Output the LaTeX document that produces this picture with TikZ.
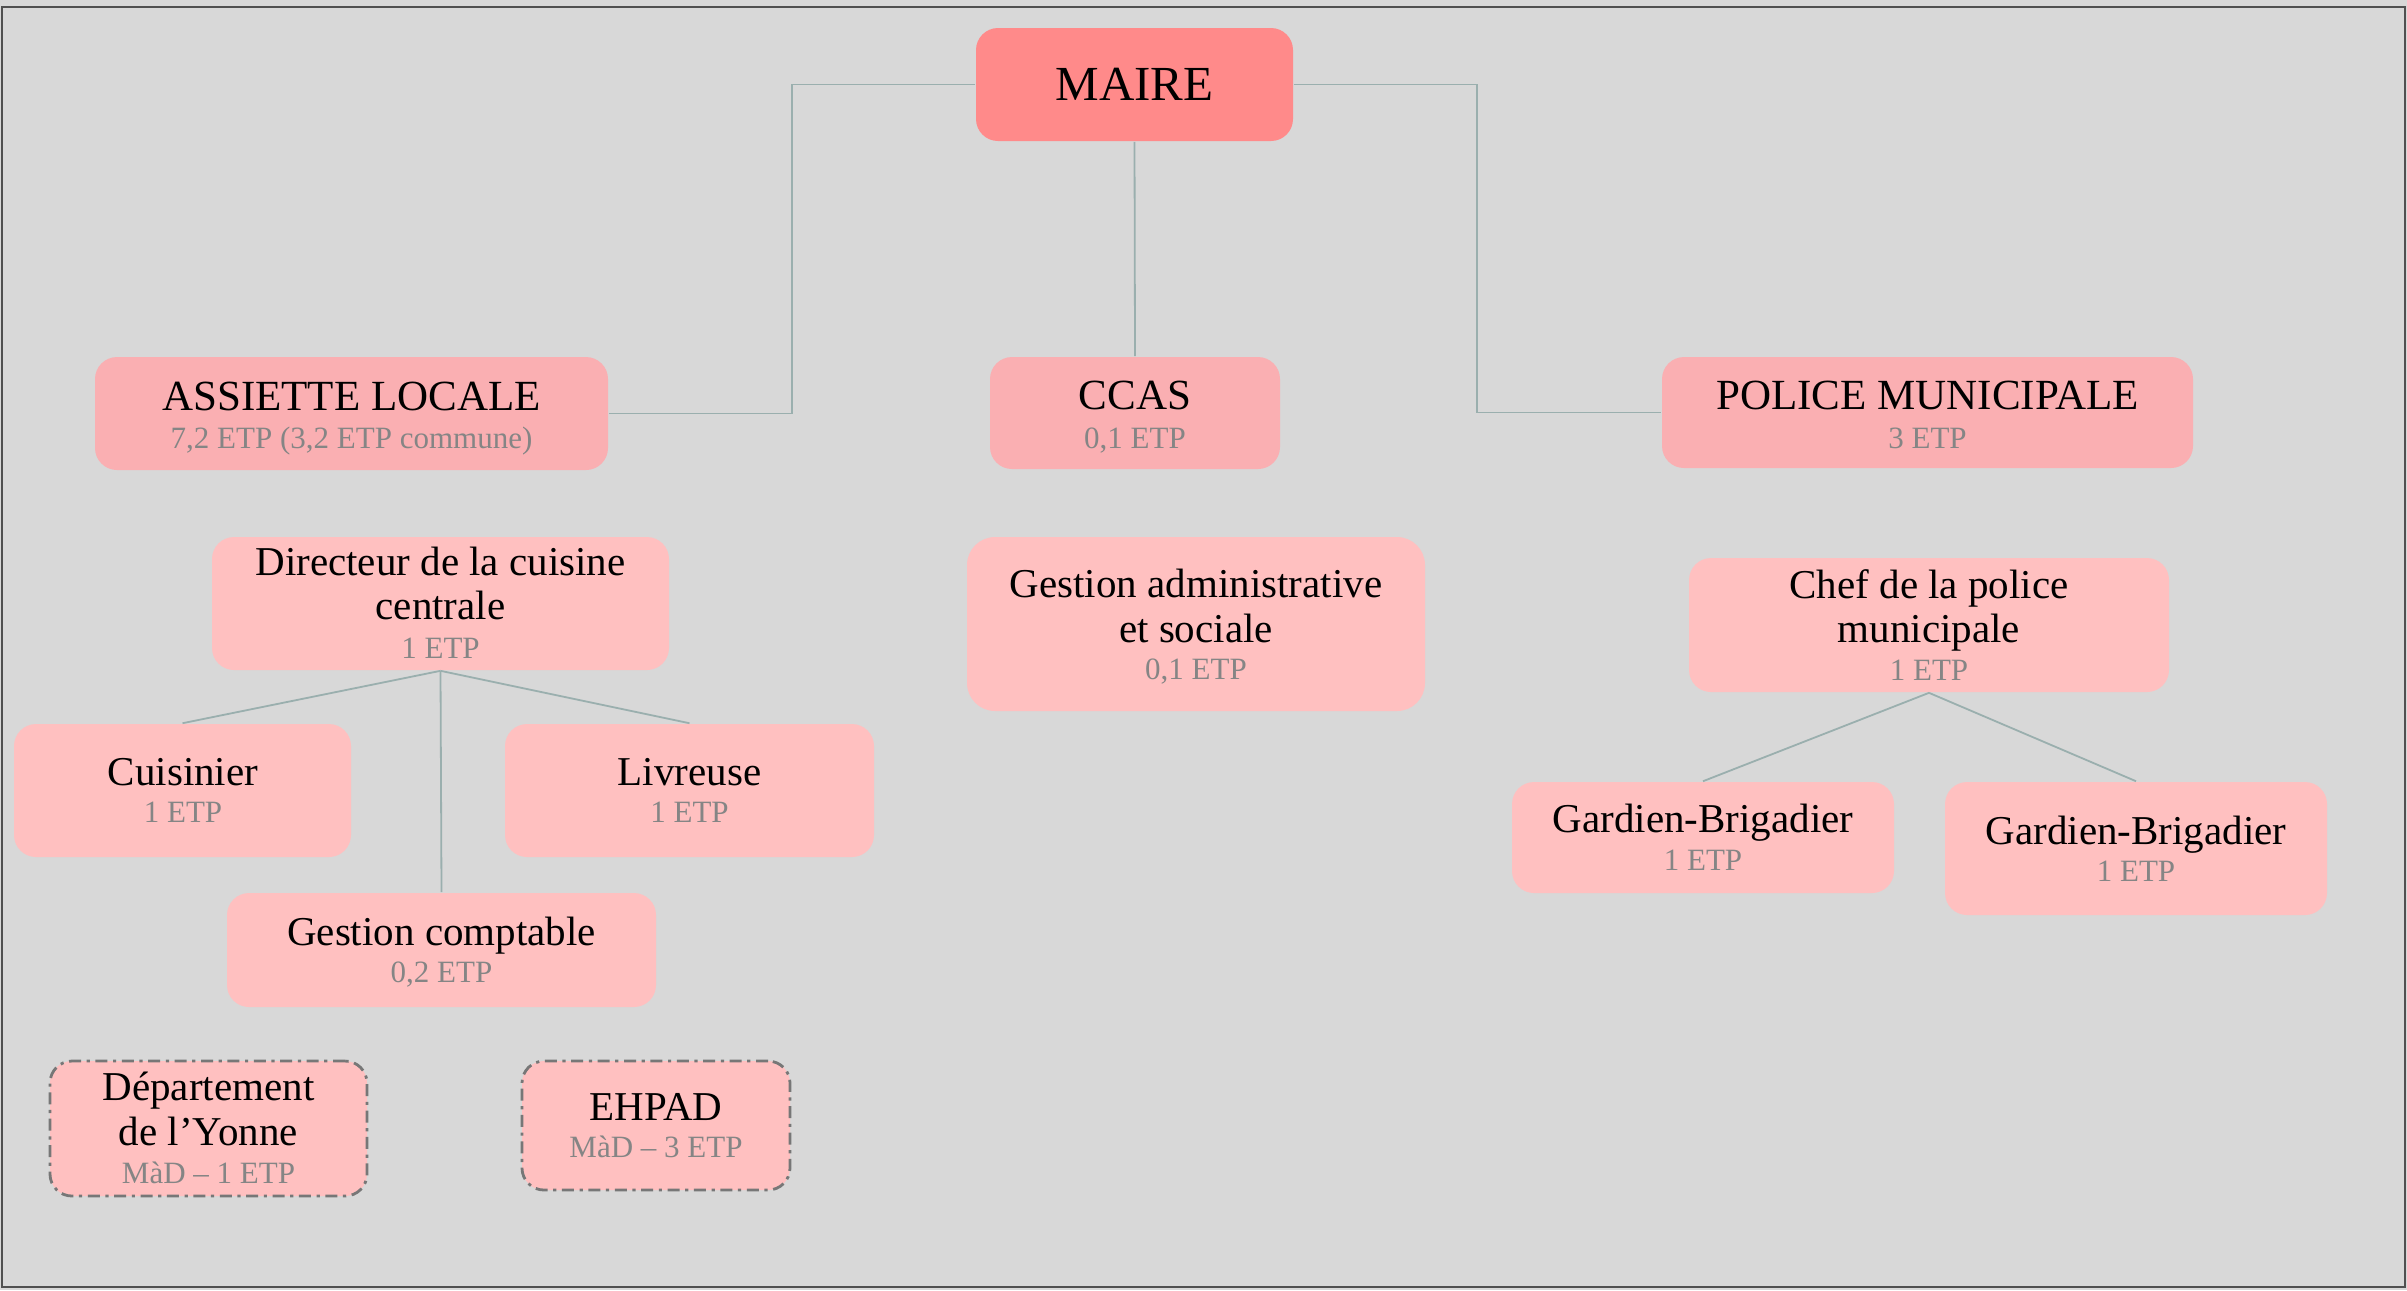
\documentclass[tikz,border=0pt]{standalone}
\usepackage{fontspec}
\setmainfont{Liberation Serif}
\definecolor{bgc}{HTML}{D8D8D8}
\definecolor{framec}{HTML}{505050}
\definecolor{mairec}{HTML}{FF8A8A}
\definecolor{lonec}{HTML}{FAAFB2}
\definecolor{ltwoc}{HTML}{FFC0C0}
\definecolor{linec}{HTML}{9AAFAE}
\definecolor{subc}{HTML}{858585}
\definecolor{dashc}{HTML}{777777}
\newcommand{\fmaire}{\fontsize{12.25}{14}\selectfont}
\newcommand{\fhead}{\fontsize{10.75}{12}\selectfont}
\newcommand{\fmain}{\fontsize{10.25}{11}\selectfont}
\newcommand{\fsub}{\fontsize{7.75}{9}\selectfont\color{subc}}
\tikzset{
  sz/.style 2 args={minimum width=#1*0.25pt, minimum height=#2*0.25pt},
  orgbox/.style={rectangle, rounded corners=5.5pt, inner sep=0pt, draw=none},
  mairebox/.style={orgbox, fill=mairec},
  lonebox/.style={orgbox, fill=lonec},
  ltwobox/.style={orgbox, fill=ltwoc},
  madbox/.style={orgbox, fill=ltwoc, draw=dashc, line width=0.7pt,
    dash pattern=on 3pt off 1.4pt on 0.8pt off 1.4pt},
  txt/.style={anchor=base, inner sep=0pt},
  conn/.style={draw=linec, line width=0.45pt},
}
\begin{document}
\begin{tikzpicture}[x=0.25pt,y=-0.25pt]
\useasboundingbox (0,0) rectangle (2407,1290);
\fill[bgc] (0,0) rectangle (2407,1290);
\draw[framec, line width=0.5pt] (2,7) rectangle (2405,1287);

% boxes
\node[mairebox, sz={317}{113}] (maire) at (1134.5,84.5) {};
\node[lonebox, sz={513}{113}] (assiette) at (351.5,413.5) {};
\node[lonebox, sz={290}{112}] (ccas) at (1135,413) {};
\node[lonebox, sz={531}{111}] (police) at (1927.5,412.5) {};
\node[ltwobox, sz={457}{133}] (dir) at (440.5,603.5) {};
\node[ltwobox, sz={337}{133}] (cuis) at (182.5,790.5) {};
\node[ltwobox, sz={369}{133}] (livr) at (689.5,790.5) {};
\node[ltwobox, sz={429}{114}] (gcomp) at (441.5,950) {};
\node[madbox, sz={317}{135}] (dept) at (208.5,1128.5) {};
\node[madbox, sz={268}{129}] (ehpad) at (656,1125.5) {};
\node[ltwobox, rounded corners=7pt, sz={458}{174}] (gas) at (1196,624) {};
\node[ltwobox, sz={480}{134}] (chef) at (1929,625) {};
\node[ltwobox, sz={382}{111}] (gbone) at (1703,837.5) {};
\node[ltwobox, sz={382}{133}] (gbtwo) at (2136,848.5) {};

% connectors
\coordinate (mleft) at (792,84.5);
\coordinate (mright) at (1477,84.5);
\draw[conn] (maire.west) -- (mleft) |- (assiette.east);
\draw[conn] (maire.east) -- (mright) |- (police.west);
\draw[conn] (maire.south) -- (ccas.north);
\draw[conn] (dir.south) -- (cuis.north);
\draw[conn] (dir.south) -- (livr.north);
\draw[conn] (dir.south) -- (gcomp.north);
\draw[conn] (chef.south) -- (gbone.north);
\draw[conn] (chef.south) -- (gbtwo.north);

% texts
\node[txt] (maire-t) at (1134.5,100) {\fmaire MAIRE};
\node[txt] (assiette-t) at (351.5,410) {\fhead ASSIETTE LOCALE};
\node[txt] (assiette-s) at (351.5,448) {\fsub 7,2 ETP (3,2 ETP commune)};
\node[txt] (ccas-t) at (1135,409) {\fhead CCAS};
\node[txt] (ccas-s) at (1135,448) {\fsub 0,1 ETP};
\node[txt] (police-t) at (1927.5,409) {\fhead POLICE MUNICIPALE};
\node[txt] (police-s) at (1927.5,448) {\fsub 3 ETP};
\node[txt] (dir-t1) at (440.5,575) {\fmain Directeur de la cuisine};
\node[txt] (dir-t2) at (440.5,619) {\fmain centrale};
\node[txt] (dir-s) at (440.5,658) {\fsub 1 ETP};
\node[txt] (cuis-t) at (183,785) {\fmain Cuisinier};
\node[txt] (cuis-s) at (183,822) {\fsub 1 ETP};
\node[txt] (livr-t) at (689.5,785) {\fmain Livreuse};
\node[txt] (livr-s) at (689.5,822) {\fsub 1 ETP};
\node[txt] (gcomp-t) at (441.5,945) {\fmain Gestion comptable};
\node[txt] (gcomp-s) at (441.5,982) {\fsub 0,2 ETP};
\node[txt] (dept-t1) at (208.5,1100) {\fmain Département};
\node[txt] (dept-t2) at (208.5,1145) {\fmain de l’Yonne};
\node[txt] (dept-s) at (208.5,1183) {\fsub MàD – 1 ETP};
\node[txt] (ehpad-t) at (656,1120) {\fmain EHPAD};
\node[txt] (ehpad-s) at (656,1157) {\fsub MàD – 3 ETP};
\node[txt] (gas-t1) at (1196,597) {\fmain Gestion administrative};
\node[txt] (gas-t2) at (1196,642) {\fmain et sociale};
\node[txt] (gas-s) at (1196,679) {\fsub 0,1 ETP};
\node[txt] (chef-t1) at (1929,598) {\fmain Chef de la police};
\node[txt] (chef-t2) at (1929,642) {\fmain municipale};
\node[txt] (chef-s) at (1929,680) {\fsub 1 ETP};
\node[txt] (gbone-t) at (1703,832) {\fmain Gardien-Brigadier};
\node[txt] (gbone-s) at (1703,870) {\fsub 1 ETP};
\node[txt] (gbtwo-t) at (2136,844) {\fmain Gardien-Brigadier};
\node[txt] (gbtwo-s) at (2136,881) {\fsub 1 ETP};
\end{tikzpicture}
\end{document}
